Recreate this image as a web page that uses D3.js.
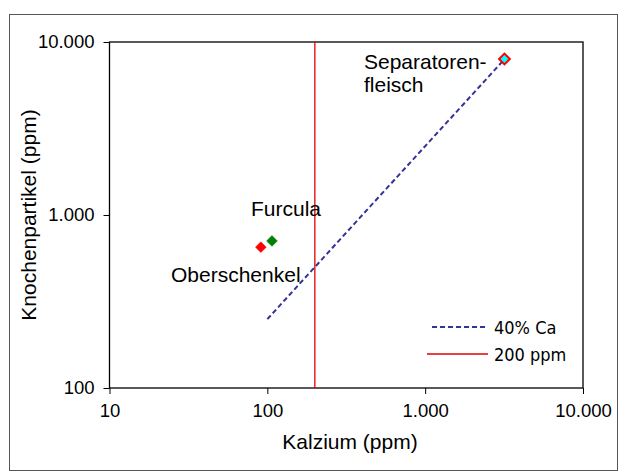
<!DOCTYPE html>
<html><head><meta charset="utf-8">
<script src="https://cdn.jsdelivr.net/npm/d3@7"></script>
<style>body{margin:0;background:#fff}svg{display:block}</style>
</head><body>
<svg id="c" width="622" height="475"></svg>
<script>
const samples = ["Oberschenkel", "Furcula", "Separatoren-fleisch"];
const calcium = [91, 107, 3180];
const boneParticles = [652, 708, 7980];
const pointFill = ["#ff0000", "#008000", "#00ffff"];
const pointStroke = ["#ff0000", "#008000", "#ff0000"];
const lineCa = [100, 3150];          // 40% Ca line: y = x / 0.4
const caFraction = 0.4;
const limitPpm = 200;
const xTicks = [10, 100, 1000, 10000];
const yTicks = [100, 1000, 10000];
const tickLabel = {10:"10",100:"100",1000:"1.000",10000:"10.000"};

const svg = d3.select("#c");
const L = 109.5, R = 583, T = 42, B = 388;
const x = d3.scaleLog().domain([10, 10000]).range([L, R]);
const y = d3.scaleLog().domain([100, 10000]).range([B, T]);
const font = "Liberation Sans, Arial, sans-serif";

// outer frame
svg.append("rect").attr("x", 9.5).attr("y", 14.5).attr("width", 608).attr("height", 456)
  .attr("fill", "none").attr("stroke", "#555").attr("stroke-width", 1);

// plot frame
svg.append("rect").attr("x", L).attr("y", T).attr("width", R - L).attr("height", B - T)
  .attr("fill", "none").attr("stroke", "#000").attr("stroke-width", 1.3);

// axes
const xa = svg.append("g").attr("transform", `translate(0,${B})`)
  .call(d3.axisBottom(x).tickValues(xTicks).tickFormat(d => tickLabel[d]).tickSize(6).tickPadding(10));
const ya = svg.append("g").attr("transform", `translate(${L},0)`)
  .call(d3.axisLeft(y).tickValues(yTicks).tickFormat(d => tickLabel[d]).tickSize(6).tickPadding(9));
[xa, ya].forEach(g => {
  g.select(".domain").remove();
  g.selectAll("line").attr("stroke", "#000");
  g.selectAll("text").attr("font-family", font).attr("font-size", 18.5).attr("fill", "#000");
});

svg.append("text").attr("x", 350).attr("y", 449).attr("text-anchor", "middle")
  .attr("font-family", font).attr("font-size", 21).text("Kalzium (ppm)");
svg.append("text").attr("transform", `translate(36,${(T + B) / 2}) rotate(-90)`).attr("text-anchor", "middle")
  .attr("font-family", font).attr("font-size", 21).text("Knochenpartikel (ppm)");

// 200 ppm line
svg.append("line").attr("x1", x(limitPpm)).attr("x2", x(limitPpm)).attr("y1", T).attr("y2", B)
  .attr("stroke", "#e00000").attr("stroke-width", 1.3);

// 40% Ca line
svg.append("line").attr("x1", x(lineCa[0])).attr("y1", y(lineCa[0] / caFraction))
  .attr("x2", x(lineCa[1])).attr("y2", y(lineCa[1] / caFraction))
  .attr("stroke", "#333399").attr("stroke-width", 2).attr("stroke-dasharray", "5,3");

// points
samples.forEach((s, i) => {
  svg.append("rect").attr("x", -3.8).attr("y", -3.8).attr("width", 7.6).attr("height", 7.6)
    .attr("transform", `translate(${x(calcium[i])},${y(boneParticles[i])}) rotate(45)`)
    .attr("fill", pointFill[i]).attr("stroke", pointStroke[i]).attr("stroke-width", i === 2 ? 2 : 0.5);
});

// labels
const lab = (t, px, py) => svg.append("text").attr("x", px).attr("y", py)
  .attr("font-family", font).attr("font-size", 21).text(t);
lab("Separatoren-", 364, 69);
lab("fleisch", 364, 92);
lab("Furcula", 251, 216);
lab("Oberschenkel", 171, 282);

// legend
const lf = "'DejaVu Sans Condensed', 'DejaVu Sans', sans-serif";
svg.append("line").attr("x1", 432).attr("x2", 487).attr("y1", 327).attr("y2", 327)
  .attr("stroke", "#333399").attr("stroke-width", 2).attr("stroke-dasharray", "5,3");
svg.append("text").attr("x", 494).attr("y", 334).attr("font-family", lf).attr("font-stretch", "condensed").attr("font-size", 18).text("40% Ca");
svg.append("line").attr("x1", 427).attr("x2", 488).attr("y1", 354).attr("y2", 354)
  .attr("stroke", "#e00000").attr("stroke-width", 1.5);
svg.append("text").attr("x", 494).attr("y", 361).attr("font-family", lf).attr("font-stretch", "condensed").attr("font-size", 18).text("200 ppm");
</script>
</body></html>
